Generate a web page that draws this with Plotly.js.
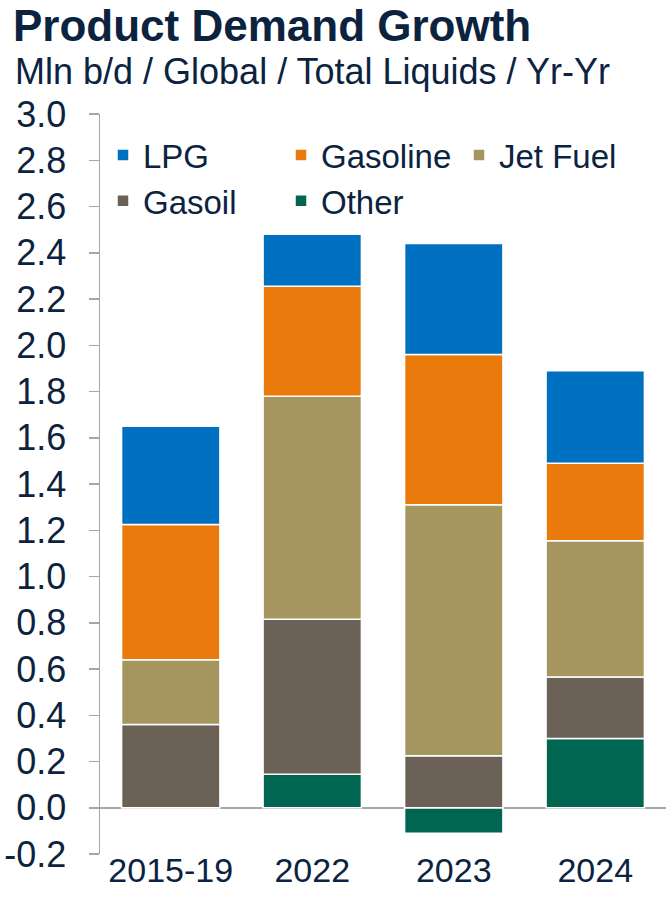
<!DOCTYPE html>
<html>
<head>
<meta charset="utf-8">
<script src="https://cdn.plot.ly/plotly-3.0.1.min.js"></script>
<style>html,body{margin:0;padding:0;background:#fff;}#chart{width:666px;height:918px;}</style>
</head>
<body>
<div id="chart"></div>
<script>
const categories = ["2015-19", "2022", "2023", "2024"];
const other    = [0.00, 0.145, -0.11, 0.30];
const gasoil   = [0.36, 0.67, 0.225, 0.265];
const jetFuel  = [0.28, 0.965, 1.085, 0.59];
const gasoline = [0.585, 0.475, 0.65, 0.335];
const lpg      = [0.425, 0.225, 0.48, 0.40];
const yTicks = [-0.2, 0, 0.2, 0.4, 0.6, 0.8, 1.0, 1.2, 1.4, 1.6, 1.8, 2.0, 2.2, 2.4, 2.6, 2.8, 3.0];

const navy = "#0c2340";
const font = "Liberation Sans, Arial, sans-serif";

function bar(name, y, color) {
  return {type: "bar", name: name, x: categories, y: y,
    marker: {color: color, line: {color: "#ffffff", width: 1.5}},
    hoverinfo: "skip"};
}
const traces = [
  bar("Other", other, "#006651"),
  bar("Gasoil", gasoil, "#6c6157"),
  bar("Jet Fuel", jetFuel, "#a4965e"),
  bar("Gasoline", gasoline, "#ea7a0c"),
  bar("LPG", lpg, "#0070c0")
];

const layout = {
  width: 666, height: 918,
  margin: {l: 100, r: 0, t: 114, b: 64},
  paper_bgcolor: "#ffffff", plot_bgcolor: "#ffffff",
  barmode: "relative", bargap: 0.305,
  font: {family: font, color: navy, size: 33},
  title: {text: "<b>Product Demand Growth</b>", font: {family: font, size: 44, color: navy},
    xref: "container", x: 13/666, xanchor: "left", yref: "container", y: 1 - 26/918, yanchor: "middle"},
  annotations: [{text: "Mln b/d / Global / Total Liquids / Yr-Yr", xref: "paper", yref: "paper",
    x: (13-100)/566, xanchor: "left", y: 1 + (114-72)/740, yanchor: "middle", showarrow: false,
    font: {family: font, size: 36, color: navy}}],
  xaxis: {type: "category", showline: false, ticks: "", showgrid: false, zeroline: false,
    ticklabelstandoff: -7, tickfont: {size: 34, color: navy}},
  yaxis: {range: [-0.2, 3.0], tickvals: yTicks, ticktext: yTicks.map(v => v.toFixed(1)),
    showgrid: false, showline: true, linecolor: "#a6a6a6", linewidth: 1.5,
    ticks: "outside", ticklen: 10, tickcolor: "#a6a6a6", tickwidth: 1.5,
    zeroline: true, zerolinecolor: "#a6a6a6", zerolinewidth: 1.5,
    ticklabelstandoff: 15, tickfont: {size: 36, color: navy}},
  legend: {orientation: "h", traceorder: "reversed", x: 3/566, xanchor: "left",
    y: 1 - (127-114)/740, yanchor: "top", entrywidth: 133, entrywidthmode: "pixels",
    font: {size: 33, color: navy}, bgcolor: "rgba(0,0,0,0)"},
  showlegend: true
};

Plotly.newPlot("chart", traces, layout, {staticPlot: true, displayModeBar: false});
</script>
</body>
</html>
